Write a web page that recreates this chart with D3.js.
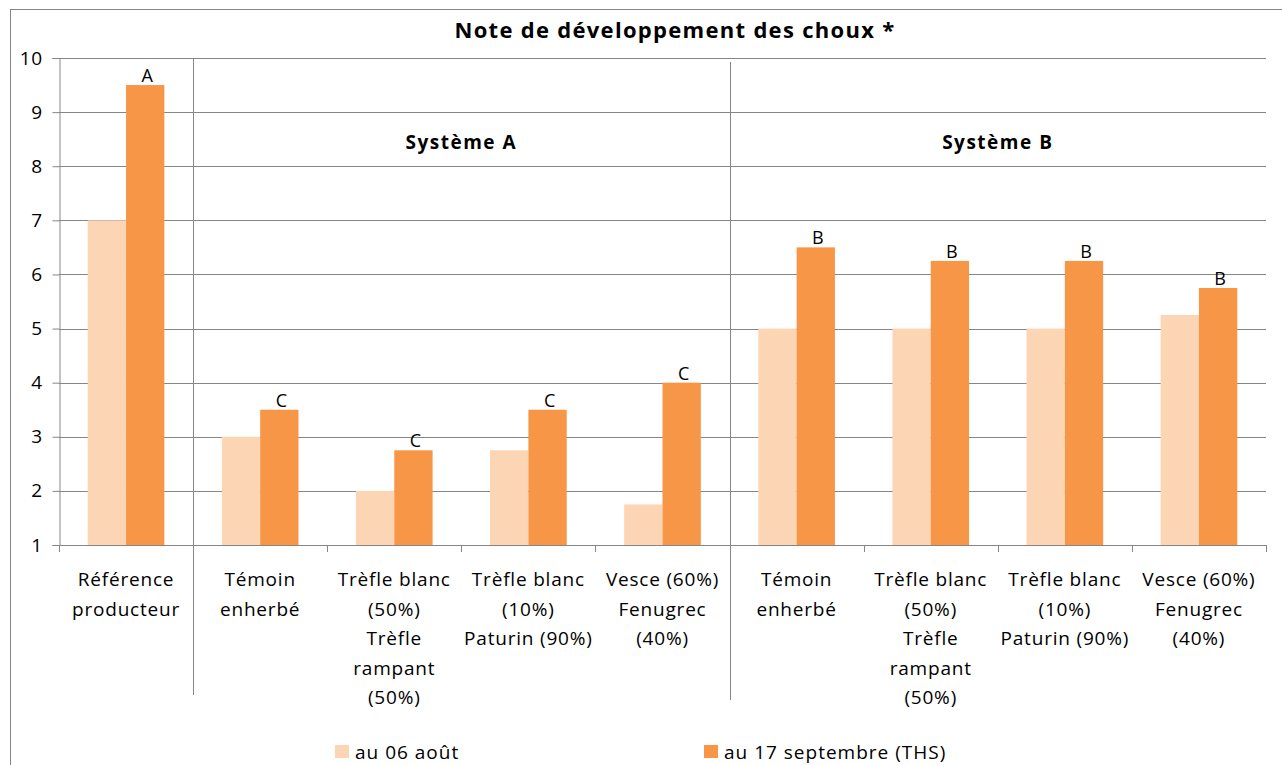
<!DOCTYPE html>
<html>
<head>
<meta charset="utf-8">
<script src="https://cdn.jsdelivr.net/npm/d3@7"></script>
<style>
  body { margin: 0; background: #fff; }
  svg text { font-family: "Open Sans", Lato, sans-serif; fill: #000; }
</style>
</head>
<body>
<div id="chart"></div>
<script>
// categories (each label split in lines like the original)
var categories = ["ref", "a1", "a2", "a3", "a4", "b1", "b2", "b3", "b4"];
var catLabels = [
  ["Référence", "producteur"],
  ["Témoin", "enherbé"],
  ["Trèfle blanc", "(50%)", "Trèfle", "rampant", "(50%)"],
  ["Trèfle blanc", "(10%)", "Paturin (90%)"],
  ["Vesce (60%)", "Fenugrec", "(40%)"],
  ["Témoin", "enherbé"],
  ["Trèfle blanc", "(50%)", "Trèfle", "rampant", "(50%)"],
  ["Trèfle blanc", "(10%)", "Paturin (90%)"],
  ["Vesce (60%)", "Fenugrec", "(40%)"]
];
var seriesNames = ["au 06 août", "au 17 septembre (THS)"];
var aout = [7, 3, 2, 2.75, 1.75, 5, 5, 5, 5.25];
var septembre = [9.5, 3.5, 2.75, 3.5, 4, 6.5, 6.25, 6.25, 5.75];
var letters = ["A", "C", "C", "C", "C", "B", "B", "B", "B"];
var yTicks = [1, 2, 3, 4, 5, 6, 7, 8, 9, 10];
var groups = [
  { name: "Système A", from: "a1", to: "a4" },
  { name: "Système B", from: "b1", to: "b4" }
];

var width = 1282, height = 765;
var colors = ["#fcd5b5", "#f79646"];
var gridColor = "#868686";

var svg = d3.select("#chart").append("svg")
  .attr("width", width)
  .attr("height", height);

// outer frame (runs off the right / bottom edge)
svg.append("rect")
  .attr("x", 10.5).attr("y", 9.5)
  .attr("width", 1300).attr("height", 800)
  .attr("fill", "none")
  .attr("stroke", gridColor);

var x = d3.scaleBand()
  .domain(categories)
  .range([59, 1266])
  .padding(0);

var xSub = d3.scaleBand()
  .domain([0, 1])
  .range([0, x.bandwidth()])
  .paddingInner(0)
  .paddingOuter(0.75);

var y = d3.scaleLinear()
  .domain([1, 10])
  .range([545, 58]);

// horizontal gridlines
svg.append("g")
  .selectAll("line")
  .data(yTicks)
  .join("line")
    .attr("x1", 59).attr("x2", 1266)
    .attr("y1", d => Math.round(y(d)) + 0.5)
    .attr("y2", d => Math.round(y(d)) + 0.5)
    .attr("stroke", gridColor);

// y axis
var yAxis = svg.append("g")
  .attr("transform", "translate(59.5,0)")
  .call(d3.axisLeft(y).tickValues(yTicks).tickSize(7).tickPadding(10).tickFormat(d3.format("d")));
yAxis.selectAll("line, path").attr("stroke", gridColor);
yAxis.selectAll("text")
  .style("font-size", "19px")
  .style("font-family", "'Open Sans', sans-serif")
  .style("letter-spacing", "0.5px");

// bars
var series = [aout, septembre];
series.forEach(function(vals, s) {
  svg.append("g")
    .selectAll("rect")
    .data(vals)
    .join("rect")
      .attr("x", (d, i) => x(categories[i]) + xSub(s))
      .attr("y", d => y(d))
      .attr("width", xSub.bandwidth())
      .attr("height", d => y(1) - y(d))
      .attr("fill", colors[s]);
});

// significance letters
svg.append("g")
  .selectAll("text")
  .data(letters)
  .join("text")
    .attr("x", (d, i) => x(categories[i]) + xSub(1) + xSub.bandwidth() / 2 + 2)
    .attr("y", (d, i) => y(septembre[i]) - 3)
    .attr("text-anchor", "middle")
    .style("font-size", "18px")
    .text(d => d);

// x axis line and ticks
var xAxis = svg.append("g");
xAxis.append("line")
  .attr("x1", 59).attr("x2", 1266)
  .attr("y1", 545.5).attr("y2", 545.5)
  .attr("stroke", gridColor);
var bounds = categories.map(c => x(c)).concat([x.range()[1]]);
xAxis.selectAll("line.tick")
  .data(bounds)
  .join("line")
    .attr("class", "tick")
    .attr("x1", d => Math.round(d) + 0.5).attr("x2", d => Math.round(d) + 0.5)
    .attr("y1", 545).attr("y2", 552)
    .attr("stroke", gridColor);

// category labels
var lab = svg.append("g")
  .selectAll("text")
  .data(catLabels)
  .join("text")
    .attr("x", (d, i) => x(categories[i]) + x.bandwidth() / 2)
    .attr("y", 586)
    .attr("text-anchor", "middle")
    .style("font-size", "19px")
    .style("letter-spacing", "0.8px");
lab.selectAll("tspan")
  .data(d => d)
  .join("tspan")
    .attr("x", function() { return this.parentNode.getAttribute("x"); })
    .attr("dy", (d, i) => i === 0 ? 0 : 29.5)
    .text(d => d);

// system separators
svg.append("line")
  .attr("x1", Math.round(x("a1")) + 0.5).attr("x2", Math.round(x("a1")) + 0.5)
  .attr("y1", 58).attr("y2", 695)
  .attr("stroke", gridColor);
svg.append("line")
  .attr("x1", Math.round(x("b1")) + 0.5).attr("x2", Math.round(x("b1")) + 0.5)
  .attr("y1", 62).attr("y2", 700)
  .attr("stroke", gridColor);

// group titles
svg.append("g")
  .selectAll("text")
  .data(groups)
  .join("text")
    .attr("x", d => (x(d.from) + x(d.to) + x.bandwidth()) / 2)
    .attr("y", 149)
    .attr("text-anchor", "middle")
    .style("font-size", "19px")
    .style("font-weight", "bold")
    .style("letter-spacing", "1.5px")
    .text(d => d.name);

// title
svg.append("text")
  .attr("x", 675)
  .attr("y", 38)
  .attr("text-anchor", "middle")
  .style("font-size", "22px")
  .style("font-weight", "bold")
  .style("letter-spacing", "1.3px")
  .text("Note de développement des choux *");

// legend
var legendX = [335, 704];
var leg = svg.append("g")
  .selectAll("g")
  .data(seriesNames)
  .join("g")
    .attr("transform", (d, i) => "translate(" + legendX[i] + ",745)");
leg.append("rect")
  .attr("width", 14).attr("height", 13)
  .attr("fill", (d, i) => colors[i]);
leg.append("text")
  .attr("x", 20).attr("y", 14)
  .style("font-size", "19px")
  .style("letter-spacing", "1px")
  .text(d => d);
</script>
</body>
</html>
